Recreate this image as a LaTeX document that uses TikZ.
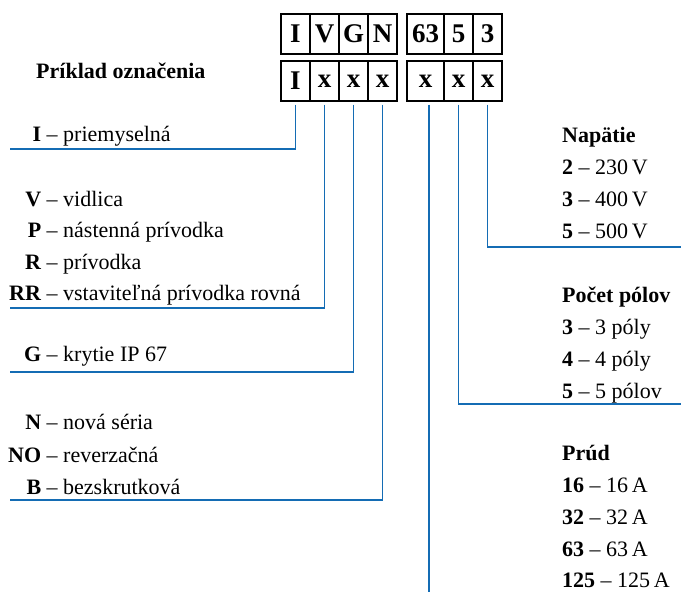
\documentclass[tikz,border=0pt]{standalone}
\usepackage{fontspec}
\setmainfont{Liberation Serif}
\usetikzlibrary{positioning}

\definecolor{wireblue}{RGB}{20,108,180}
\newcommand{\code}[2]{\makebox[31pt][r]{\textbf{#1}} – #2}

\begin{document}
\begin{tikzpicture}[x=1pt, y=-1pt]

   \tikzstyle{boxtop}=[rectangle, draw, line width=1.2pt, inner sep=0pt, minimum height=40pt, font=\fontsize{27}{30}\selectfont\bfseries]
   \tikzstyle{boxbot}=[rectangle, draw, line width=1.2pt, inner sep=0pt, minimum height=40pt, font=\fontsize{27}{30}\selectfont\bfseries]
   \tikzstyle{lbl}=[anchor=base west, inner sep=0pt, font=\fontsize{22}{24}\selectfont]
   \tikzstyle{wire}=[draw=wireblue, line width=1.6pt]

   \useasboundingbox (0,0) rectangle (681,592);

   % upper row
   \node[boxtop, minimum width=29pt] (t1) at (295.5,34) {I};
   \node[boxtop, minimum width=29pt] (t2) at (324.5,34) {V};
   \node[boxtop, minimum width=29pt] (t3) at (353.5,34) {G};
   \node[boxtop, minimum width=29pt] (t4) at (382.5,34) {N};
   \node[boxtop, minimum width=37pt] (t5) at (425.5,34) {63};
   \node[boxtop, minimum width=29pt] (t6) at (458.5,34) {5};
   \node[boxtop, minimum width=29pt] (t7) at (487.5,34) {3};

   % lower row
   \node[boxbot, minimum width=29pt] (b1) at (295.5,81) {I};
   \node[boxbot, minimum width=29pt] (b2) at (324.5,81) {x};
   \node[boxbot, minimum width=29pt] (b3) at (353.5,81) {x};
   \node[boxbot, minimum width=29pt] (b4) at (382.5,81) {x};
   \node[boxbot, minimum width=37pt] (b5) at (425.5,81) {x};
   \node[boxbot, minimum width=29pt] (b6) at (458.5,81) {x};
   \node[boxbot, minimum width=29pt] (b7) at (487.5,81) {x};

   \node[lbl] (title) at (36,78) {\textbf{Príklad označenia}};

   % left legend
   \node[lbl] (iI)  at (10,141) {\code{I}{priemyselná}};
   \node[lbl] (iV)  at (10,206) {\code{V}{vidlica}};
   \node[lbl] (iP)  at (10,237) {\code{P}{nástenná prívodka}};
   \node[lbl] (iR)  at (10,269) {\code{R}{prívodka}};
   \node[lbl] (iRR) at (10,300) {\code{RR}{vstaviteľná prívodka rovná}};
   \node[lbl] (iG)  at (10,361) {\code{G}{krytie IP 67}};
   \node[lbl] (iN)  at (10,429) {\code{N}{nová séria}};
   \node[lbl] (iNO) at (10,462) {\code{NO}{reverzačná}};
   \node[lbl] (iB)  at (10,494) {\code{B}{bezskrutková}};

   % right legend
   \node[lbl] (hU)  at (562,142) {\textbf{Napätie}};
   \node[lbl] (u2)  at (562,174) {\textbf{2} – 230\,V};
   \node[lbl] (u3)  at (562,206) {\textbf{3} – 400\,V};
   \node[lbl] (u5)  at (562,238) {\textbf{5} – 500\,V};
   \node[lbl] (hP)  at (562,302) {\textbf{Počet pólov}};
   \node[lbl] (p3)  at (562,334) {\textbf{3} – 3 póly};
   \node[lbl] (p4)  at (562,366) {\textbf{4} – 4 póly};
   \node[lbl] (p5)  at (562,398) {\textbf{5} – 5 pólov};
   \node[lbl] (hI)  at (562,460) {\textbf{Prúd}};
   \node[lbl] (a16) at (562,492) {\textbf{16} – 16\,A};
   \node[lbl] (a32) at (562,524) {\textbf{32} – 32\,A};
   \node[lbl] (a63) at (562,556) {\textbf{63} – 63\,A};
   \node[lbl] (a125) at (562,587) {\textbf{125} – 125\,A};

   % line ends
   \coordinate (eI) at (10,149);
   \coordinate (eV) at (10,308);
   \coordinate (eG) at (10,372);
   \coordinate (eN) at (10,500);
   \coordinate (eU) at (681,247);
   \coordinate (eP) at (681,404);
   \coordinate (eA) at (429,592);

   \draw[wire] ([yshift=-3pt]b1.south) |- (eI);
   \draw[wire] ([yshift=-3pt]b2.south) |- (eV);
   \draw[wire] ([yshift=-3pt]b3.south) |- (eG);
   \draw[wire] ([yshift=-3pt]b4.south) |- (eN);
   \draw[wire] ([xshift=3.5pt, yshift=-3pt]b5.south) -- (eA);
   \draw[wire] ([yshift=-3pt]b6.south) |- (eP);
   \draw[wire] ([yshift=-3pt]b7.south) |- (eU);

\end{tikzpicture}
\end{document}
